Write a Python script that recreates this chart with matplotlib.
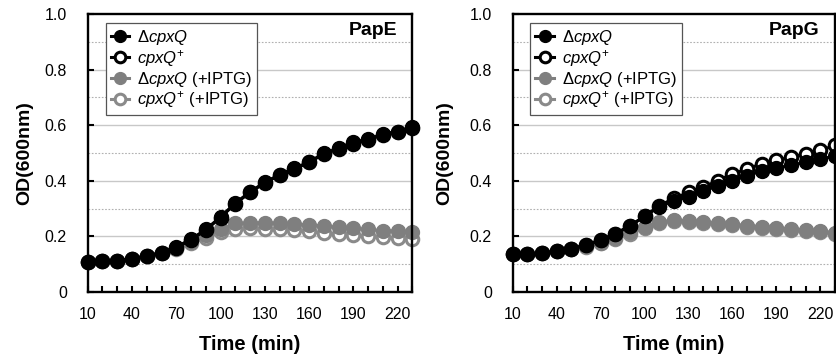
import numpy as np
import matplotlib
matplotlib.use('Agg')
import matplotlib.pyplot as plt

plt.rcParams['font.family'] = ['Liberation Sans', 'DejaVu Sans']
plt.rcParams['mathtext.fontset'] = 'custom'
plt.rcParams['mathtext.rm'] = 'Liberation Sans'
plt.rcParams['mathtext.it'] = 'Liberation Sans:italic'
plt.rcParams['mathtext.bf'] = 'Liberation Sans:bold'

time_min = np.arange(10, 231, 10)
xtick_labels = ['10', '', '', '40', '', '', '70', '', '', '100', '', '', '130', '', '',
                '160', '', '', '190', '', '', '220', '']
yticks = [0, 0.2, 0.4, 0.6, 0.8, 1.0]
ytick_labels = ['0', '0.2', '0.4', '0.6', '0.8', '1.0']

# PapE
pape_del = [0.109, 0.110, 0.113, 0.120, 0.129, 0.142, 0.162, 0.190, 0.225, 0.270, 0.320,
            0.360, 0.395, 0.422, 0.445, 0.468, 0.499, 0.517, 0.540, 0.549, 0.569, 0.577, 0.592]
pape_plus = [0.109, 0.110, 0.113, 0.120, 0.129, 0.142, 0.160, 0.188, 0.223, 0.268, 0.318,
             0.358, 0.393, 0.420, 0.443, 0.466, 0.497, 0.514, 0.533, 0.547, 0.566, 0.575, 0.590]
pape_del_iptg = [0.109, 0.110, 0.113, 0.120, 0.129, 0.141, 0.158, 0.180, 0.205, 0.225, 0.247,
                 0.248, 0.250, 0.247, 0.244, 0.241, 0.237, 0.233, 0.229, 0.225, 0.221, 0.219, 0.215]
pape_plus_iptg = [0.109, 0.110, 0.113, 0.120, 0.128, 0.140, 0.155, 0.175, 0.195, 0.215, 0.228,
                  0.229, 0.228, 0.225, 0.222, 0.218, 0.213, 0.208, 0.204, 0.200, 0.197, 0.194, 0.190]

# PapG
papg_del = [0.136, 0.135, 0.139, 0.147, 0.156, 0.169, 0.187, 0.209, 0.238, 0.272, 0.307,
            0.328, 0.343, 0.364, 0.381, 0.400, 0.418, 0.436, 0.445, 0.457, 0.466, 0.477, 0.490]
papg_plus = [0.136, 0.135, 0.139, 0.147, 0.156, 0.169, 0.187, 0.209, 0.238, 0.272, 0.310,
             0.337, 0.358, 0.377, 0.401, 0.425, 0.442, 0.462, 0.474, 0.485, 0.497, 0.510, 0.527]
papg_del_iptg = [0.136, 0.135, 0.139, 0.147, 0.156, 0.165, 0.178, 0.195, 0.215, 0.235, 0.253,
                 0.258, 0.256, 0.252, 0.248, 0.244, 0.239, 0.235, 0.231, 0.227, 0.223, 0.219, 0.214]
papg_plus_iptg = [0.136, 0.135, 0.139, 0.147, 0.155, 0.163, 0.175, 0.190, 0.208, 0.230, 0.249,
                  0.254, 0.252, 0.248, 0.244, 0.240, 0.235, 0.231, 0.227, 0.223, 0.219, 0.215, 0.210]

labels = [r'$\Delta\mathit{cpxQ}$', r'$\mathit{cpxQ}^{+}$',
          r'$\Delta\mathit{cpxQ}$ (+IPTG)', r'$\mathit{cpxQ}^{+}$ (+IPTG)']

gray = '#7f7f7f'
gray_open = '#8a8a8a'


def panel(ax, d, p, di, pi, title, ylab_x):
    h4, = ax.plot(time_min, pi, '-o', color=gray_open, lw=2.2, ms=9, mew=2.2,
                  mfc='white', mec=gray_open, zorder=3, clip_on=False)
    h3, = ax.plot(time_min, di, '-o', color=gray, lw=2.2, ms=10, mew=1.0,
                  mfc=gray, mec=gray, zorder=4, clip_on=False)
    h2, = ax.plot(time_min, p, '-o', color='black', lw=2.2, ms=9, mew=2.2,
                  mfc='white', mec='black', zorder=5, clip_on=False)
    h1, = ax.plot(time_min, d, '-o', color='black', lw=2.2, ms=10, mew=1.0,
                  mfc='black', mec='black', zorder=6, clip_on=False)

    ax.set_xlim(10, 230)
    ax.set_ylim(0, 1.0)
    ax.set_xticks(time_min)
    ax.set_xticklabels(xtick_labels)
    ax.set_yticks(yticks)
    ax.set_yticklabels(ytick_labels)
    ax.tick_params(axis='x', direction='in', length=4, width=1.5, pad=11, labelsize=11.5)
    ax.tick_params(axis='y', direction='in', length=4, width=1.5, pad=15, labelsize=11.5)
    for s in ax.spines.values():
        s.set_linewidth(1.7)
        s.set_zorder(7)

    for yv in [0.2, 0.4, 0.6, 0.8]:
        ax.axhline(yv, color='#c8c8c8', lw=1.0, zorder=1)
    for yv in [0.1, 0.3, 0.5, 0.7, 0.9]:
        ax.axhline(yv, color='#b0b0b0', lw=0.8, ls=(0, (1.5, 1.5)), zorder=1)

    ax.set_xlabel('Time (min)', fontsize=14.5, fontweight='bold', va='center')
    ax.xaxis.set_label_coords(0.5, -0.19)
    ax.set_ylabel('OD(600nm)', fontsize=14, fontweight='bold', va='center')
    ax.yaxis.set_label_coords(ylab_x, 0.5)

    ax.text(0.953, 0.94, title, transform=ax.transAxes, ha='right', va='center',
            fontsize=14, fontweight='bold')

    leg = ax.legend([h1, h2, h3, h4], labels, loc='upper left',
                    bbox_to_anchor=(0.055, 0.968), borderaxespad=0, fontsize=12,
                    handlelength=1.1, handletextpad=0.5, labelspacing=0.05,
                    borderpad=0.3, fancybox=False, framealpha=1, markerscale=0.85)
    leg.get_frame().set_edgecolor('#555555')
    leg.get_frame().set_linewidth(0.9)
    leg.set_zorder(8)


fig = plt.figure(figsize=(8.36, 3.59), dpi=100)
ax1 = fig.add_axes([0.1049, 0.1866, 0.3885, 0.7744])
ax2 = fig.add_axes([0.6133, 0.1866, 0.3855, 0.7744])

panel(ax1, pape_del, pape_plus, pape_del_iptg, pape_plus_iptg, 'PapE', -0.193)
panel(ax2, papg_del, papg_plus, papg_del_iptg, papg_plus_iptg, 'PapG', -0.21)

fig.savefig('out.png', dpi=100)
